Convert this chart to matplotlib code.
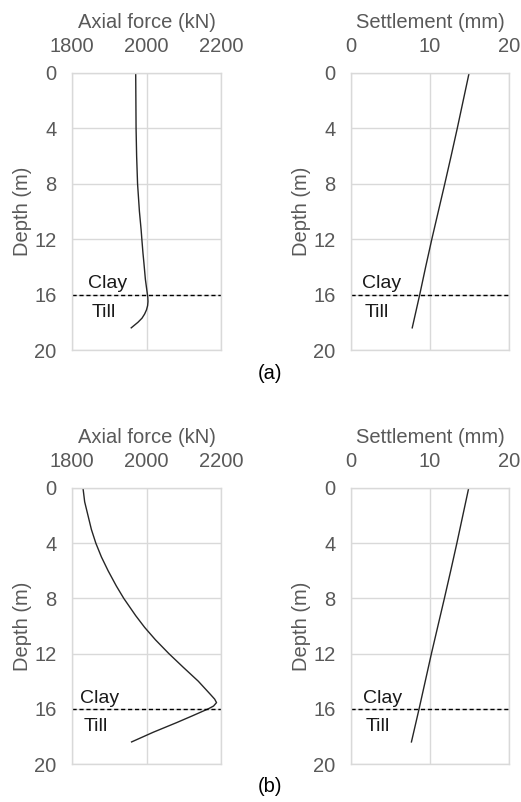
import numpy as np
import matplotlib.pyplot as plt

plt.rcParams['font.family'] = ['Liberation Sans', 'DejaVu Sans']

# Case (a)
depth_force_a = [0, 2, 4, 6, 8, 10, 11.3, 12, 13, 13.7, 14.3, 14.9, 15.4, 15.9,
                 16.2, 16.5, 16.8, 17.1, 17.4, 17.7, 18.0, 18.4]
force_a = [1971, 1971.5, 1972, 1973.5, 1976, 1981, 1985.5, 1987.5, 1990.5, 1993,
           1995, 1997, 1999.5, 2002, 2003.5, 2004, 2003, 2000, 1995, 1988, 1977, 1959]
depth_settle_a = [0, 2, 4, 6, 8, 10, 12, 14, 16, 18.4]
settle_a = [14.95, 14.2, 13.45, 12.67, 11.87, 11.05, 10.23, 9.45, 8.7, 7.75]

# Case (b)
depth_force_b = [0, 1, 2, 3, 4, 5, 6, 7.1, 8, 9.25, 10.1, 11, 12, 13, 14, 15,
                 15.3, 15.55, 15.8, 16, 16.5, 17, 17.7, 18.4]
force_b = [1829.5, 1834, 1843, 1852, 1864, 1879, 1897, 1919, 1939, 1971, 1995,
           2024, 2060, 2099, 2139, 2173, 2183, 2188, 2180, 2166, 2124, 2081, 2018, 1960]
depth_settle_b = [0, 2, 4, 6, 8, 10, 12, 14, 16, 18.4]
settle_b = [14.9, 14.15, 13.4, 12.62, 11.82, 11.0, 10.18, 9.4, 8.62, 7.65]

clay_till_depth = 16
depth_ticks = [0, 4, 8, 12, 16, 20]
force_ticks = [1800, 2000, 2200]
settle_ticks = [0, 10, 20]

W, H = 521, 802
fig = plt.figure(figsize=(W / 100, H / 100), dpi=100)

grey = '#d9d9d9'
tick_col = '#595959'
fs = 14.5


def make_ax(rect_px, xlim, xticks, xlabel, x, y, clay_x, till_x):
    l, t, r, b = rect_px
    ax = fig.add_axes([l / W, 1 - b / H, (r - l) / W, (b - t) / H])
    ax.plot(x, y, color='#262626', lw=1.0)
    ax.axhline(clay_till_depth, color='black', lw=1.0, ls=(0, (3, 2)))
    ax.set_xlim(xlim)
    ax.set_ylim(20, 0)
    ax.set_xticks(xticks)
    ax.set_yticks(depth_ticks)
    ax.xaxis.tick_top()
    ax.xaxis.set_label_position('top')
    ax.set_xlabel(xlabel, fontsize=fs, color=tick_col, labelpad=7)
    ax.set_ylabel('Depth (m)', fontsize=fs, color=tick_col, labelpad=2)
    ax.tick_params(length=0, labelsize=fs, labelcolor=tick_col)
    ax.tick_params(axis='x', pad=12)
    ax.tick_params(axis='y', pad=11)
    ax.grid(True, color=grey, lw=1.0)
    ax.set_axisbelow(True)
    for s in ax.spines.values():
        s.set_color(grey)
        s.set_linewidth(1.0)
    ax.text(clay_x, 15.55, 'Clay', transform=ax.get_yaxis_transform(),
            fontsize=14, color='#1a1a1a', va='baseline')
    ax.text(till_x, 16.65, 'Till', transform=ax.get_yaxis_transform(),
            fontsize=14, color='#1a1a1a', va='top')
    return ax


make_ax((72, 73, 221, 350), (1800, 2200), force_ticks, 'Axial force (kN)',
        force_a, depth_force_a, 0.107, 0.13)
make_ax((351, 73, 509, 350), (0, 20), settle_ticks, 'Settlement (mm)',
        settle_a, depth_settle_a, 0.068, 0.089)
make_ax((72, 488, 221, 764), (1800, 2200), force_ticks, 'Axial force (kN)',
        force_b, depth_force_b, 0.054, 0.075)
make_ax((351, 488, 509, 764), (0, 20), settle_ticks, 'Settlement (mm)',
        settle_b, depth_settle_b, 0.074, 0.095)

fig.text(270 / W, 1 - 374 / H, '(a)', fontsize=fs, color='black', ha='center', va='center')
fig.text(270 / W, 1 - 787 / H, '(b)', fontsize=fs, color='black', ha='center', va='center')

fig.savefig('out.png', dpi=100)
